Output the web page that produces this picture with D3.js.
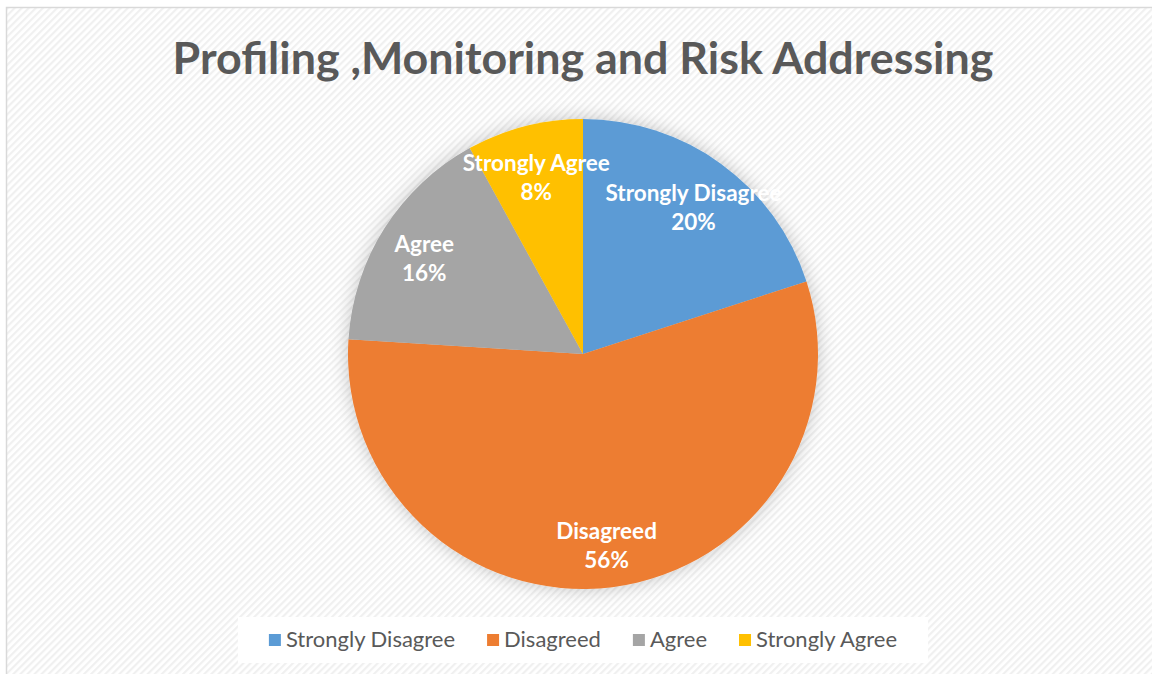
<!DOCTYPE html>
<html>
<head>
<meta charset="utf-8">
<script src="https://cdn.jsdelivr.net/npm/d3@7"></script>
<style>
  html, body { margin: 0; padding: 0; background: #fff; }
  svg { display: block; }
</style>
</head>
<body>
<svg id="chart" width="1152" height="674"></svg>
<script>
'use strict';

const title = 'Profiling ,Monitoring and Risk Addressing';
const categories = ['Strongly Disagree', 'Disagreed', 'Agree', 'Strongly Agree'];
const values = [20, 56, 16, 8];
const colors = ['#5B9BD5', '#ED7D31', '#A5A5A5', '#FFC000'];

const width = 1152;
const height = 674;
const font = 'Lato, "Open Sans", sans-serif';

const svg = d3.select('#chart');
const defs = svg.append('defs');

// faint diagonal hatch like the office chart background
const hatch = defs.append('pattern')
    .attr('id', 'hatch')
    .attr('patternUnits', 'userSpaceOnUse')
    .attr('width', 5)
    .attr('height', 5)
    .attr('patternTransform', 'rotate(45)');
hatch.append('rect').attr('width', 5).attr('height', 5).attr('fill', '#ffffff');
hatch.append('rect').attr('width', 2.2).attr('height', 5).attr('fill', '#f0f0f0');

const shadow = defs.append('filter')
    .attr('id', 'glow')
    .attr('x', '-20%').attr('y', '-20%')
    .attr('width', '140%').attr('height', '140%');
shadow.append('feGaussianBlur').attr('in', 'SourceAlpha').attr('stdDeviation', 9).attr('result', 'blur');
shadow.append('feFlood').attr('flood-color', '#000').attr('flood-opacity', 0.22);
shadow.append('feComposite').attr('in2', 'blur').attr('operator', 'in').attr('result', 'sh');
const merge = shadow.append('feMerge');
merge.append('feMergeNode').attr('in', 'sh');
merge.append('feMergeNode').attr('in', 'SourceGraphic');

// chart area
svg.append('rect')
    .attr('x', 6.5).attr('y', 7.5)
    .attr('width', width + 10).attr('height', height + 10)
    .attr('fill', 'url(#hatch)')
    .attr('stroke', '#d9d9d9')
    .attr('stroke-width', 1.5);

svg.append('text')
    .attr('x', 583)
    .attr('y', 74)
    .attr('text-anchor', 'middle')
    .attr('font-family', font)
    .attr('font-weight', 700)
    .attr('font-size', 44.8)
    .attr('fill', '#595959')
    .text(title);

// pie
const cx = 583, cy = 354, radius = 235;
const data = categories.map((c, i) => ({ name: c, value: values[i], color: colors[i] }));

const pie = d3.pie().value(d => d.value).sort(null);
const arc = d3.arc().innerRadius(0).outerRadius(radius);
const labelArc = d3.arc().innerRadius(radius * 0.8).outerRadius(radius * 0.8);

const g = svg.append('g').attr('transform', `translate(${cx},${cy})`);
const slices = pie(data);

g.append('g')
    .attr('filter', 'url(#glow)')
    .selectAll('path')
    .data(slices)
    .join('path')
        .attr('d', arc)
        .attr('fill', d => d.data.color);

const labels = g.append('g')
    .selectAll('text')
    .data(slices)
    .join('text')
        .attr('transform', d => `translate(${labelArc.centroid(d)})`)
        .attr('text-anchor', 'middle')
        .attr('font-family', font)
        .attr('font-weight', 700)
        .attr('font-size', 22.5)
        .attr('fill', '#ffffff');
labels.append('tspan')
    .attr('x', 0).attr('dy', '-0.06em')
    .text(d => d.data.name);
labels.append('tspan')
    .attr('x', 0).attr('dy', '1.3em')
    .text(d => d.data.value + '%');

// legend
const legendBox = svg.append('rect')
    .attr('fill', '#ffffff');
const legend = svg.append('g');
const items = legend.selectAll('g')
    .data(data)
    .join('g');
items.append('rect')
    .attr('width', 12).attr('height', 12)
    .attr('y', -13)
    .attr('fill', d => d.color);
items.append('text')
    .attr('x', 17)
    .attr('font-family', font)
    .attr('font-size', 22)
    .attr('fill', '#595959')
    .text(d => d.name);

let xPos = 0;
items.each(function () {
    d3.select(this).attr('transform', `translate(${xPos},0)`);
    xPos += this.getBBox().width + 32;
});
const legendWidth = xPos - 32;
const lx = cx - legendWidth / 2;
legend.attr('transform', `translate(${lx},647)`);
legendBox
    .attr('x', lx - 31).attr('y', 617)
    .attr('width', legendWidth + 62).attr('height', 46);
</script>
</body>
</html>
